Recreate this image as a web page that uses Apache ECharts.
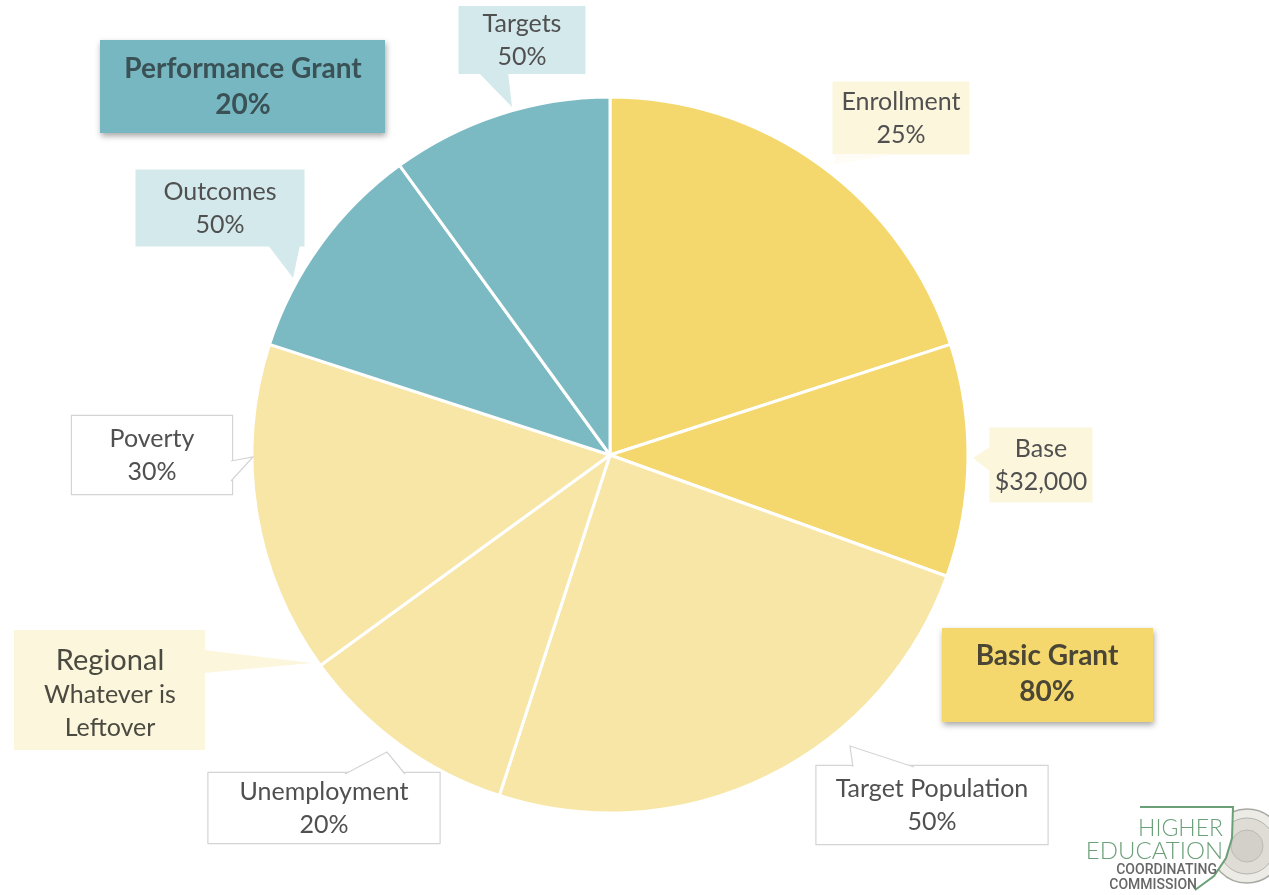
<!DOCTYPE html>
<html>
<head>
<meta charset="utf-8">
<script src="https://cdn.jsdelivr.net/npm/echarts@6/dist/echarts.min.js"></script>
<style>html,body{margin:0;padding:0;background:#fff}#c{width:1269px;height:895px}</style>
</head>
<body>
<div id="c"></div>
<script>
// ---- data ----
const categories = ['Enrollment', 'Base', 'Target Population', 'Unemployment', 'Poverty', 'Outcomes', 'Targets'];
const shares = [20, 10.5, 24.5, 10, 15, 10, 10];
const labelValues = ['25%', '$32,000', '50%', '20%', '30%', '50%', '50%'];
const groupNames = ['Basic Grant', 'Performance Grant'];
const groupShares = ['80%', '20%'];
const regionalTitle = 'Regional';
const regionalText = ['Whatever is', 'Leftover'];

// ---- styles (kept separate from data) ----
const FONT = 'Lato, "Open Sans", sans-serif';
const DARK_Y = '#F4D86D', LIGHT_Y = '#F7E6A5', TEAL = '#7BBAC3';
const PALE_T = '#D3E9EC', PALE_Y = '#FCF6DD';
const sliceColors = [DARK_Y, DARK_Y, LIGHT_Y, LIGHT_Y, LIGHT_Y, TEAL, TEAL];
const boxFill = [PALE_Y, PALE_Y, '#ffffff', '#ffffff', '#ffffff', PALE_T, PALE_T];
const boxBorder = [null, null, '#d4d4d4', '#d4d4d4', '#d4d4d4', null, null];
// label box: center x, center y, width, height
const boxGeom = [
  [901, 118, 137, 73],
  [1041, 465, 103, 75],
  [932, 805, 231, 78],
  [324, 808, 231, 70],
  [152, 455, 160, 78],
  [220, 208, 169, 77],
  [522, 40, 127, 68]
];
const LH = 33;

const chart = echarts.init(document.getElementById('c'));

const pieData = categories.map((name, i) => ({
  name: name,
  value: shares[i],
  itemStyle: { color: sliceColors[i] },
  label: {
    backgroundColor: boxFill[i],
    borderColor: boxBorder[i] || 'transparent',
    borderWidth: boxBorder[i] ? 1.2 : 0,
    width: boxGeom[i][2],
    padding: [(boxGeom[i][3] - 2 * LH) / 2, 0]
  }
}));

function tail(points, fill, stroke) {
  const els = [{
    type: 'polygon', z: 100,
    shape: { points: points },
    style: { fill: fill }
  }];
  if (stroke) {
    els.push({
      type: 'polyline', z: 101,
      shape: { points: [points[0], points[2], points[1]] },
      style: { stroke: stroke, lineWidth: 1.2, fill: null }
    });
  }
  return els;
}

const shadow = { shadowBlur: 6, shadowOffsetX: 1, shadowOffsetY: 3, shadowColor: 'rgba(0,0,0,0.35)' };

const graphics = [].concat(
  tail([[478, 72], [508, 72], [512, 107]], PALE_T),
  tail([[268, 245], [300, 245], [293, 278]], PALE_T),
  tail([[836, 154], [900, 154], [834, 164]], '#FEFCF4'),
  tail([[991, 446], [991, 472], [973, 458]], PALE_Y),
  tail([[853, 767], [914, 767], [850, 746]], '#ffffff', '#d4d4d4'),
  tail([[345, 774], [405, 774], [387, 752]], '#ffffff', '#d4d4d4'),
  tail([[231, 461], [231, 481], [253, 457]], '#ffffff', '#d4d4d4'),
  tail([[204, 650], [204, 673], [312, 663]], PALE_Y),
  [
    // Performance Grant box
    { type: 'rect', z: 90, shape: { x: 100, y: 40, width: 285, height: 93 }, style: Object.assign({ fill: '#77B7C1' }, shadow) },
    { type: 'text', z: 91, style: { text: groupNames[1] + '\n' + groupShares[1], x: 243, y: 87, textAlign: 'center', textVerticalAlign: 'middle', font: 'bold 28px ' + FONT, lineHeight: 36, fill: '#3A5156', align: 'center', verticalAlign: 'middle' } },
    // Basic Grant box
    { type: 'rect', z: 90, shape: { x: 942, y: 628, width: 211, height: 94 }, style: Object.assign({ fill: DARK_Y }, shadow) },
    { type: 'text', z: 91, style: { text: groupNames[0] + '\n' + groupShares[0], x: 1047, y: 674, textAlign: 'center', textVerticalAlign: 'middle', font: 'bold 28px ' + FONT, lineHeight: 36, fill: '#4A4535', align: 'center', verticalAlign: 'middle' } },
    // Regional box
    { type: 'rect', z: 90, shape: { x: 14, y: 630, width: 191, height: 120 }, style: { fill: PALE_Y } },
    { type: 'text', z: 91, style: { text: regionalTitle, x: 110, y: 661, textAlign: 'center', textVerticalAlign: 'middle', font: '29px ' + FONT, fill: '#4a4a40' } },
    { type: 'text', z: 91, style: { text: regionalText.join('\n'), x: 110, y: 711, textAlign: 'center', textVerticalAlign: 'middle', font: '25px ' + FONT, lineHeight: 33, fill: '#4a4a40' } },
    // logo
    { type: 'circle', z: 80, shape: { cx: 1247, cy: 846, r: 37 }, style: { fill: '#ecebe6', stroke: '#a9a9a4', lineWidth: 1.5 } },
    { type: 'circle', z: 80, shape: { cx: 1247, cy: 846, r: 28 }, style: { fill: '#dedcd5', stroke: '#b4b4ae', lineWidth: 1 } },
    { type: 'circle', z: 80, shape: { cx: 1247, cy: 846, r: 16 }, style: { fill: '#d2d0c8', stroke: '#bbbab3', lineWidth: 1 } },
    { type: 'polygon', z: 81, shape: { points: [[1085, 807], [1233, 807], [1232, 838], [1226, 858], [1214, 876], [1195, 890], [1085, 890]] }, style: { fill: '#ffffff' } },
    { type: 'polyline', z: 82, shape: { points: [[1140, 807], [1233, 807], [1232, 838], [1226, 858], [1214, 876], [1195, 890]] }, style: { stroke: '#6a9f78', lineWidth: 2, fill: null } },
    { type: 'text', z: 83, style: { text: 'HIGHER', x: 1223, y: 829, textAlign: 'right', textVerticalAlign: 'middle', font: '300 23px ' + FONT, fill: '#6a9f78' } },
    { type: 'text', z: 83, style: { text: 'EDUCATION', x: 1223, y: 851, textAlign: 'right', textVerticalAlign: 'middle', font: '300 24px ' + FONT, fill: '#6a9f78' } },
    { type: 'text', z: 83, style: { text: 'COORDINATING', x: 1217, y: 870, textAlign: 'right', textVerticalAlign: 'middle', font: '500 14px Roboto, sans-serif', fill: '#666' } },
    { type: 'text', z: 83, style: { text: 'COMMISSION', x: 1197, y: 885, textAlign: 'right', textVerticalAlign: 'middle', font: '500 14px Roboto, sans-serif', fill: '#666' } }
  ]
);

chart.setOption({
  backgroundColor: '#ffffff',
  animation: false,
  series: [{
    type: 'pie',
    center: [610, 455],
    radius: 358,
    startAngle: 90,
    clockwise: true,
    itemStyle: { borderColor: '#ffffff', borderWidth: 3 },
    label: {
      show: true,
      formatter: p => p.name + '\n' + labelValues[p.dataIndex],
      fontFamily: FONT,
      fontSize: 25,
      lineHeight: LH,
      color: '#505050',
      align: 'center'
    },
    labelLine: { show: false },
    labelLayout: function (params) {
      const g = boxGeom[params.dataIndex];
      return { x: g[0], y: g[1], align: 'center', verticalAlign: 'middle', hideOverlap: false, moveOverlap: null };
    },
    emphasis: { disabled: true },
    data: pieData
  }],
  graphic: graphics
});
</script>
</body>
</html>
